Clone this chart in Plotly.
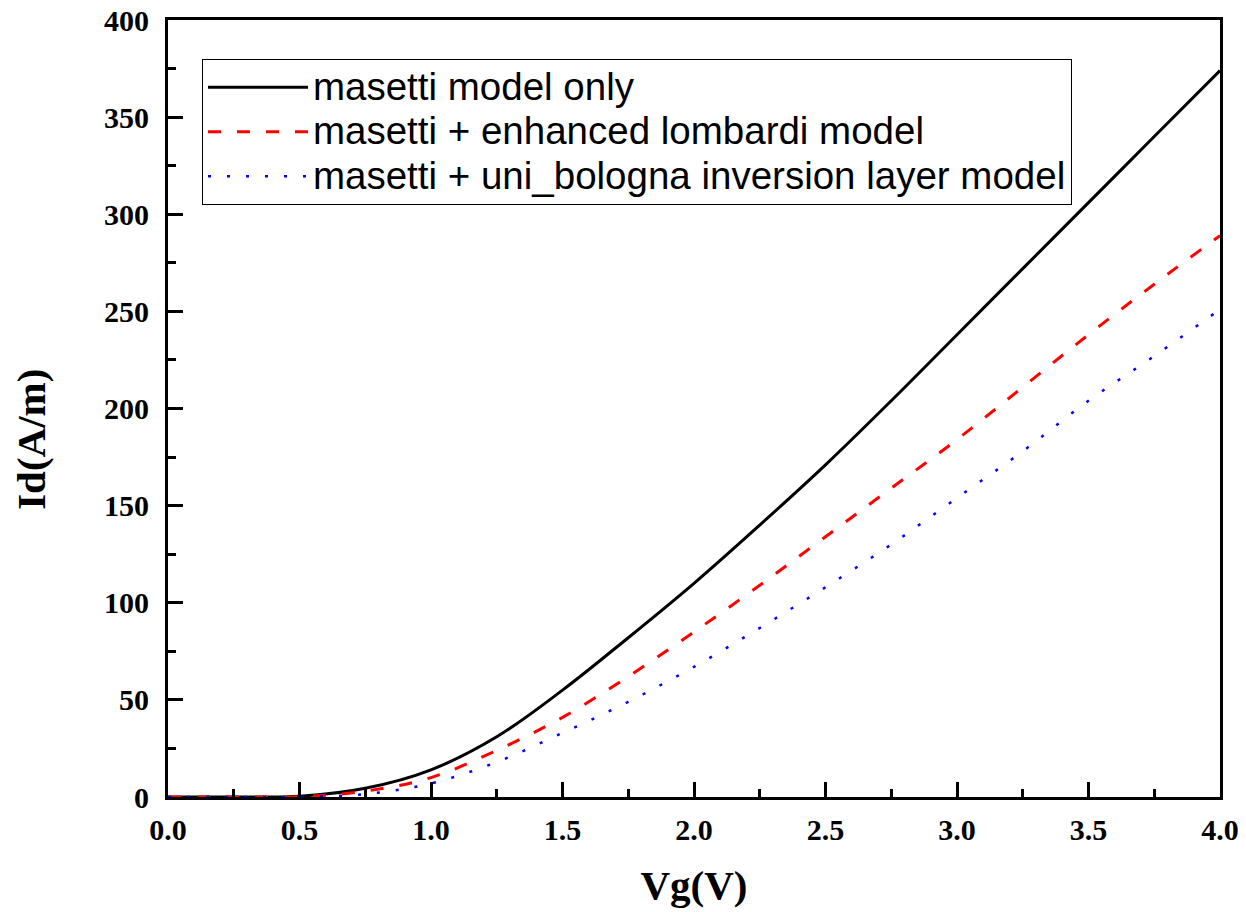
import plotly.graph_objects as go

vg = [0.0, 0.25, 0.5, 0.75, 1.0, 1.25, 1.5, 1.75, 2.0, 2.25, 2.5, 2.75, 3.0, 3.25, 3.5, 3.75, 4.0]
id_masetti = [0, 0, 0.4, 4.5, 14, 31, 55, 82, 110, 140, 171, 204, 238, 272, 306, 340, 374]
id_lombardi = [0, 0, 0.2, 3, 10, 24, 41, 62, 85, 109, 134, 159, 184, 211, 238, 264, 289]
id_bologna = [0, 0, 0.1, 1.5, 7, 18, 33, 49, 67, 87, 108, 130, 154, 178, 204, 227, 251]

names = ["masetti model only",
         "masetti + enhanced lombardi model",
         "masetti + uni_bologna inversion layer model"]


def big(s):
    return '<span style="font-size:38.5px">' + s + '</span>'


fig = go.Figure()
fig.add_trace(go.Scatter(x=vg, y=id_masetti, mode="lines", name=big(names[0]),
                         line=dict(color="black", width=3, shape="spline")))
fig.add_trace(go.Scatter(x=vg, y=id_lombardi, mode="lines", name=big(names[1]),
                         line=dict(color="red", width=3, dash="13px,16px", shape="spline")))
fig.add_trace(go.Scatter(x=vg, y=id_bologna, mode="lines", name=big(names[2]),
                         line=dict(color="blue", width=2.5, dash="3px,16px", shape="spline")))

tickfont = dict(family="Liberation Serif", size=30, color="black")
titlefont = dict(family="Liberation Serif", size=41, color="black")

fig.update_layout(
    width=1246, height=912,
    margin=dict(l=160, r=34, t=12, b=123),
    paper_bgcolor="white", plot_bgcolor="white",
    showlegend=True,
    legend=dict(x=0.0323, y=0.95, xanchor="left", yanchor="top",
                bordercolor="black", borderwidth=1, bgcolor="white",
                font=dict(family="Liberation Sans", size=32, color="black"),
                itemwidth=100, tracegroupgap=0),
    xaxis=dict(range=[0, 4], dtick=0.5, tickformat=".1f", automargin=False,
               showline=True, linecolor="black", linewidth=3, mirror=True,
               ticks="inside", ticklen=15, tickwidth=3, tickcolor="black",
               minor=dict(ticks="inside", ticklen=8, tickwidth=3, dtick=0.25, tickcolor="black"),
               showgrid=False, zeroline=False, ticklabelstandoff=4,
               ticklabeloverflow="allow",
               tickfont=tickfont,
               title=dict(text="<b>Vg(V)</b>", font=titlefont, standoff=26)),
    yaxis=dict(range=[0, 400], dtick=50, automargin=False,
               showline=True, linecolor="black", linewidth=3, mirror=True,
               ticks="inside", ticklen=15, tickwidth=3, tickcolor="black",
               minor=dict(ticks="inside", ticklen=8, tickwidth=3, dtick=25, tickcolor="black"),
               showgrid=False, zeroline=False, ticklabelstandoff=10,
               ticklabeloverflow="allow",
               tickfont=tickfont,
               title=dict(text="<b>Id(A/m)" + "&nbsp;" * 6 + "</b>", font=titlefont, standoff=53)),
)
fig.update_xaxes(tickprefix="<b>", ticksuffix="</b>")
fig.update_yaxes(tickprefix="<b>", ticksuffix="</b>")

fig.write_html("out.html")
